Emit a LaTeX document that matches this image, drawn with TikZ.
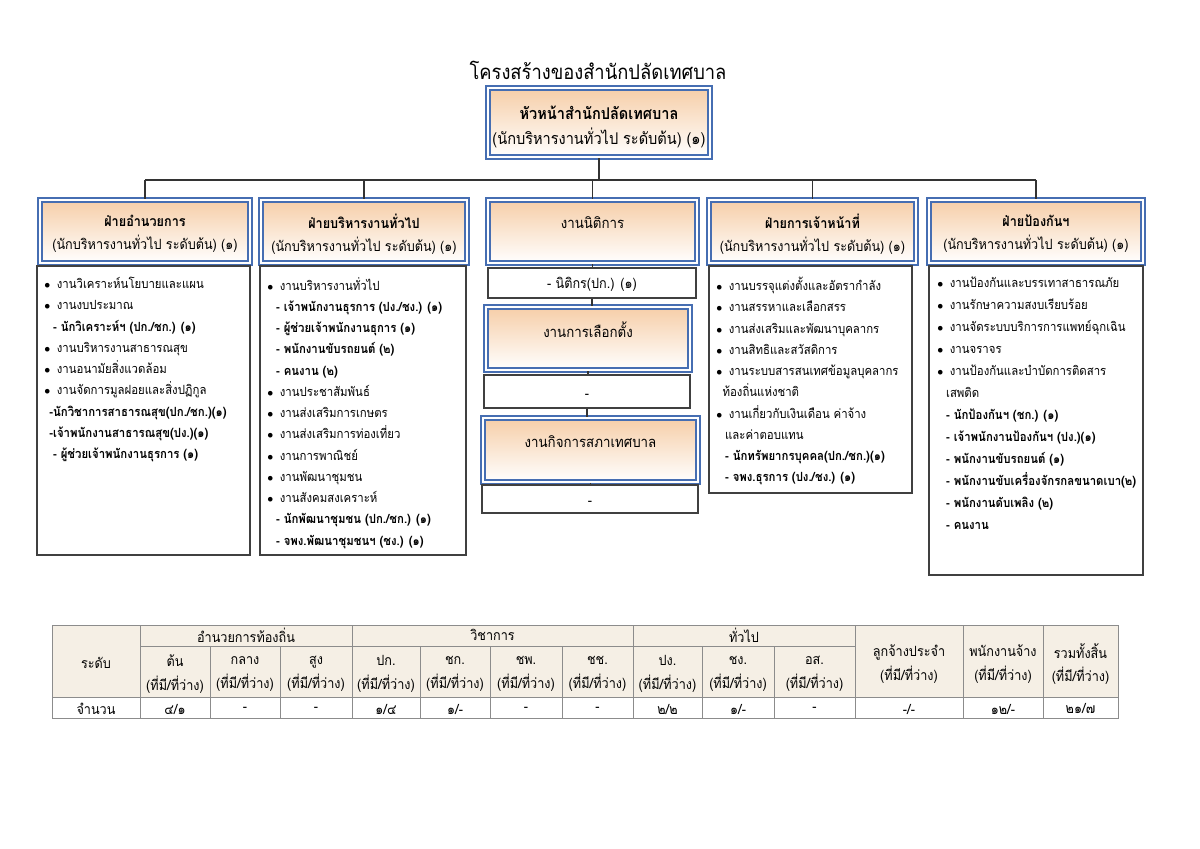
\documentclass[tikz,border=0pt]{standalone}
\usepackage{fontspec}
\setmainfont[Script=Thai, FakeStretch=0.9]{Loma}
\usetikzlibrary{fit, positioning}

\definecolor{boxblue}{RGB}{70,110,178}
\definecolor{peach}{RGB}{246,206,168}
\definecolor{tabfill}{RGB}{245,239,229}

% feste Zeilenabstaende
\setlength{\lineskiplimit}{-20pt}

% Aufzaehlungspunkt und Stelle
\newcommand\itm{\makebox[1.0em][l]{\footnotesize$\bullet$}}
\newcommand\pos[1]{\hspace*{0.7em}\textbf{- #1}}

\begin{document}
\begin{tikzpicture}[
      x=0.25mm, y=-0.25mm, % 1 unit = 1 px of the scan
      hbox/.style={draw=boxblue, double=white, double distance=0.45mm, line width=0.55mm,
        top color=peach, bottom color=white, inner sep=0pt},
      htext/.style={inner sep=0pt, align=center, font=\fontsize{10}{16.5}\selectfont},
      cbox/.style={draw=black!75, line width=0.3mm, fill=white, inner sep=0pt},
      ctext/.style={inner sep=0pt, font=\fontsize{10}{14}\selectfont},
      list/.style={anchor=north west, align=left, inner sep=0pt,
        font=\fontsize{9}{15.1}\selectfont},
      link/.style={black!80, line width=0.3mm},
      tabrule/.style={black!45, line width=0.25mm},
      tcell/.style={inner sep=0pt, align=center, font=\fontsize{10}{17}\selectfont},
    ]
    \useasboundingbox (0,0) rectangle (1200,849);

    % Titel
    \node[font=\fontsize{14.5}{18}\selectfont] (title) at (598,70) {โครงสร้างของสำนักปลัดเทศบาล};

    % Leitung
    \node[hbox, fit={(488,88) (710,157)}] (head) {};
    \node[htext, font=\fontsize{11.5}{17.8}\selectfont] (head-t) at ([yshift=-1mm]head.center)
      {\textbf{หัวหน้าสำนักปลัดเทศบาล}\\(นักบริหารงานทั่วไป ระดับต้น) (๑)};

    % Abteilungen
    \foreach \n/\xa/\xb/\t in {
        h1/40/250/{\textbf{ฝ่ายอำนวยการ}\\(นักบริหารงานทั่วไป ระดับต้น) (๑)},
        h2/261/467/{\textbf{ฝ่ายบริหารงานทั่วไป}\\(นักบริหารงานทั่วไป ระดับต้น) (๑)},
        h3/488/697/{{\fontsize{10.5}{16.5}\selectfont งานนิติการ}\\~},
        h4/709/916/{\textbf{ฝ่ายการเจ้าหน้าที่}\\(นักบริหารงานทั่วไป ระดับต้น) (๑)},
        h5/929/1143/{\textbf{ฝ่ายป้องกันฯ}\\(นักบริหารงานทั่วไป ระดับต้น) (๑)}}
    {
      \node[hbox, fit={(\xa,200) (\xb,263)}] (\n) {};
      \node[htext] (\n-t) at ([yshift=-0.6mm]\n.center) {\t};
    }

    % Verbindungen
    \coordinate (bus) at (598,180);
    \draw[link] (head.south) -- (head.south |- bus);
    \draw[link] (bus -| h1.north) -- (bus -| h5.north);
    \foreach \n in {h1,h2,h3,h4,h5}
    \draw[link] (bus -| \n.north) -- (\n.north);

    % Kaesten
    \node[cbox, fit={(37,266) (250,555)}] (c1) {};
    \node[cbox, fit={(260,266) (466,555)}] (c2) {};
    \node[cbox, fit={(709,266) (912,493)}] (c4) {};
    \node[cbox, fit={(929,266) (1143,575)}] (c5) {};

    % Mittlere Spalte
    \node[cbox, fit={(488,268) (696,298)}] (c3a) {};
    \node[hbox, fit={(486,307) (690,370)}] (h3b) {};
    \node[cbox, fit={(484,375) (690,408)}] (c3b) {};
    \node[hbox, fit={(483,418) (698,482)}] (h3c) {};
    \node[cbox, fit={(482,485) (698,513)}] (c3c) {};
    \foreach \a/\b in {h3/c3a, c3a/h3b, h3b/c3b, c3b/h3c, h3c/c3c}
    \draw[link] (\a.south) -- (\a.south |- \b.north);

    \node[ctext] (c3a-t) at ([yshift=-0.3mm]c3a.center) {- นิติกร(ปก.) (๑)};
    \node[htext] (h3b-t) at ([yshift=-0.6mm]h3b.center) {{\fontsize{10.5}{16.5}\selectfont งานการเลือกตั้ง}\\~};
    \node[ctext] (c3b-t) at ([yshift=-1.2mm]c3b.center) {-};
    \node[htext] (h3c-t) at ([yshift=-0.9mm]h3c.center) {{\fontsize{10.5}{16.5}\selectfont งานกิจการสภาเทศบาล}\\~};
    \node[ctext] (c3c-t) at ([yshift=-1.2mm]c3c.center) {-};

    % Aufgaben
    \node[list] (l1) at (44,277) {
      \itm งานวิเคราะห์นโยบายและแผน\\
      \itm งานงบประมาณ\\
      \pos{นักวิเคราะห์ฯ (ปก./ชก.) (๑)}\\
      \itm งานบริหารงานสาธารณสุข\\
      \itm งานอนามัยสิ่งแวดล้อม\\
      \itm งานจัดการมูลฝอยและสิ่งปฏิกูล\\
      \hspace*{0.4em}\textbf{-นักวิชาการสาธารณสุข(ปก./ชก.)(๑)}\\
      \hspace*{0.4em}\textbf{-เจ้าพนักงานสาธารณสุข(ปง.)(๑)}\\
      \pos{ผู้ช่วยเจ้าพนักงานธุรการ (๑)}};
    \node[list] (l2) at (267,277) {
      \itm งานบริหารงานทั่วไป\\
      \pos{เจ้าพนักงานธุรการ (ปง./ชง.) (๑)}\\
      \pos{ผู้ช่วยเจ้าพนักงานธุการ (๑)}\\
      \pos{พนักงานขับรถยนต์ (๒)}\\
      \pos{คนงาน (๒)}\\
      \itm งานประชาสัมพันธ์\\
      \itm งานส่งเสริมการเกษตร\\
      \itm งานส่งเสริมการท่องเที่ยว\\
      \itm งานการพาณิชย์\\
      \itm งานพัฒนาชุมชน\\
      \itm งานสังคมสงเคราะห์\\
      \pos{นักพัฒนาชุมชน (ปก./ชก.) (๑)}\\
      \pos{จพง.พัฒนาชุมชนฯ (ชง.) (๑)}};
    \node[list] (l4) at (716,277) {
      \itm งานบรรจุแต่งตั้งและอัตรากำลัง\\
      \itm งานสรรหาและเลือกสรร\\
      \itm งานส่งเสริมและพัฒนาบุคลากร\\
      \itm งานสิทธิและสวัสดิการ\\
      \itm งานระบบสารสนเทศข้อมูลบุคลากร\\
      \hspace*{0.5em}ท้องถิ่นแห่งชาติ\\
      \itm งานเกี่ยวกับเงินเดือน ค่าจ้าง\\
      \hspace*{0.7em}และค่าตอบแทน\\
      \pos{นักทรัพยากรบุคคล(ปก./ชก.)(๑)}\\
      \pos{จพง.ธุรการ (ปง./ชง.) (๑)}};
    \node[list, font=\fontsize{9}{15.6}\selectfont] (l5) at (937,277) {
      \itm งานป้องกันและบรรเทาสาธารณภัย\\
      \itm งานรักษาความสงบเรียบร้อย\\
      \itm งานจัดระบบบริการการแพทย์ฉุกเฉิน\\
      \itm งานจราจร\\
      \itm งานป้องกันและบำบัดการติดสาร\\
      \hspace*{0.7em}เสพติด\\
      \pos{นักป้องกันฯ (ชก.) (๑)}\\
      \pos{เจ้าพนักงานป้องกันฯ (ปง.)(๑)}\\
      \pos{พนักงานขับรถยนต์ (๑)}\\
      \pos{พนักงานขับเครื่องจักรกลขนาดเบา(๒)}\\
      \pos{พนักงานดับเพลิง (๒)}\\
      \pos{คนงาน}};

    % Tabelle
    \fill[tabfill] (52,625) rectangle (1118,697);
    \draw[tabrule] (52,625) rectangle (1118,718);
    \draw[tabrule] (52,697) -- (1118,697);
    \draw[tabrule] (140,646) -- (855,646);
    \foreach \x in {140,352,633,855,963,1043}
    \draw[tabrule] (\x,625) -- (\x,718);
    \foreach \x in {210,280,420,490,562,702,774}
    \draw[tabrule] (\x,646) -- (\x,718);

    \node[tcell] (lvl) at (96,663) {ระดับ};
    \node[tcell] (cnt) at (96,709) {จำนวน};
    \foreach \n/\xa/\xb/\t in {g1/140/352/อำนวยการท้องถิ่น, g2/352/633/วิชาการ, g3/633/855/ทั่วไป}
    \node[tcell] (\n) at ({(\xa+\xb)/2},635) {\t};
    \foreach \xa/\xb/\t [count=\i] in {140/210/ต้น, 210/280/กลาง, 280/352/สูง, 352/420/ปก.,
        420/490/ชก., 490/562/ชพ., 562/633/ชช., 633/702/ปง., 702/774/ชง., 774/855/อส.}
    \node[tcell] (k\i) at ({(\xa+\xb)/2},674) {\t\\(ที่มี/ที่ว่าง)};
    \foreach \xa/\xb/\t [count=\i] in {855/963/ลูกจ้างประจำ, 963/1043/พนักงานจ้าง, 1043/1118/รวมทั้งสิ้น}
    \node[tcell] (s\i) at ({(\xa+\xb)/2},664) {\t\\(ที่มี/ที่ว่าง)};
    \foreach \xa/\xb/\v [count=\i] in {140/210/{๔/๑}, 210/280/-, 280/352/-, 352/420/{๑/๔},
        420/490/{๑/-}, 490/562/-, 562/633/-, 633/702/{๒/๒}, 702/774/{๑/-}, 774/855/-,
        855/963/{-/-}, 963/1043/{๑๒/-}, 1043/1118/{๒๑/๗}}
    \node[tcell] (v\i) at ({(\xa+\xb)/2},709) {\v};
  \end{tikzpicture}
\end{document}
